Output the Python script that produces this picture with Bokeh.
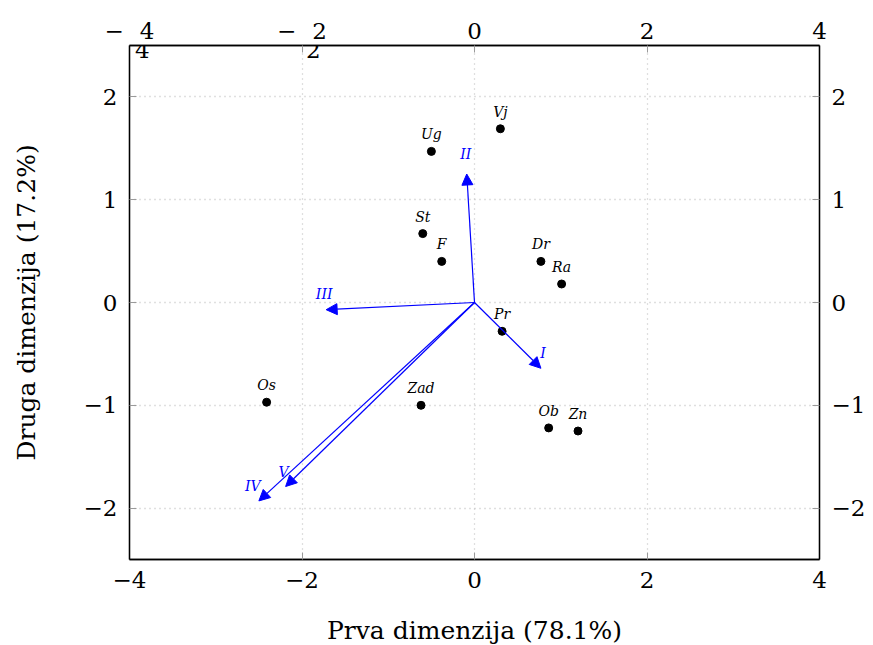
from bokeh.plotting import figure
from bokeh.models import (ColumnDataSource, LinearAxis, FixedTicker, Arrow, NormalHead,
                          Range1d)
from bokeh.core.properties import value
from bokeh.embed import file_html
from bokeh.resources import INLINE

# ---- data ----
obj_names = ["Vj", "Ug", "St", "F", "Dr", "Ra", "Pr", "Os", "Zad", "Ob", "Zn"]
obj_x = [0.30, -0.50, -0.60, -0.38, 0.77, 1.01, 0.32, -2.41, -0.62, 0.86, 1.20]
obj_y = [1.69, 1.47, 0.67, 0.40, 0.40, 0.18, -0.28, -0.97, -1.00, -1.22, -1.25]

var_names = ["I", "II", "III", "IV", "V"]
var_x = [0.77, -0.09, -1.72, -2.50, -2.19]
var_y = [-0.64, 1.25, -0.07, -1.93, -1.79]

x_ticks = [-4, -2, 0, 2, 4]
y_ticks = [-2, -1, 0, 1, 2]
top_tick_labels = ["\u2212\u2002\u20094", "\u2212\u2002\u20092", "0", "2", "4"]
stray_labels = ["4", "2"]
stray_x = [-3.85, -1.87]

x_title = "Prva dimenzija (78.1%)"
y_title = "Druga dimenzija (17.2%)"

# ---- styling ----
FONT = "DejaVu Serif"
BLUE = "#0000ff"
TICK_FS = "23px"
TITLE_FS = "25px"
LAB_FS = "14px"

p = figure(output_backend="svg", toolbar_location=None,
           frame_width=690, frame_height=514,
           min_border_left=129, min_border_top=45, min_border_right=46, min_border_bottom=84,
           x_range=Range1d(-4, 4), y_range=Range1d(-2.5, 2.5),
           x_axis_location=None, y_axis_location=None)
p.outline_line_color = "black"
p.outline_line_width = 1.3
p.background_fill_color = "white"
p.border_fill_color = "white"

def style_axis(ax, ticks):
    ax.ticker = FixedTicker(ticks=ticks)
    ax.major_label_text_font = FONT
    ax.major_label_text_font_size = TICK_FS
    ax.major_label_text_color = "black"
    ax.axis_line_color = "black"
    ax.axis_line_width = 1.3
    ax.major_tick_in = 7
    ax.major_tick_out = 0
    ax.major_tick_line_color = "#9a9a9a"
    ax.minor_tick_line_color = None
    ax.axis_label_text_font = FONT
    ax.axis_label_text_font_size = TITLE_FS
    ax.axis_label_text_font_style = "normal"
    ax.axis_label_text_color = "black"

def minus(t):
    return str(t).replace("-", "\u2212")

xb = LinearAxis(axis_label=x_title)
style_axis(xb, x_ticks)
xb.major_label_standoff = 12
xb.axis_label_standoff = 25
xb.major_label_overrides = {t: minus(t) for t in x_ticks}
p.add_layout(xb, "below")

xt = LinearAxis()
style_axis(xt, x_ticks)
xt.major_label_standoff = 2
xt.major_label_overrides = {t: lab for t, lab in zip(x_ticks, top_tick_labels)}
p.add_layout(xt, "above")

yl = LinearAxis(axis_label=y_title)
style_axis(yl, y_ticks)
yl.major_label_standoff = 12
yl.axis_label_standoff = 40
yl.major_label_orientation = "horizontal"
yl.major_label_overrides = {t: minus(t) for t in y_ticks}
p.add_layout(yl, "left")

yr = LinearAxis()
style_axis(yr, y_ticks)
yr.major_label_standoff = 12
yr.major_label_orientation = "horizontal"
yr.major_label_overrides = {t: minus(t) for t in y_ticks}
p.add_layout(yr, "right")

# grid
p.xgrid.ticker = FixedTicker(ticks=x_ticks)
p.ygrid.ticker = FixedTicker(ticks=y_ticks)
for g in (p.xgrid, p.ygrid):
    g.grid_line_color = "#c0c0c0"
    g.grid_line_dash = "1 4"
    g.grid_line_width = 1.3

# stray top labels (as in the original rendering)
p.text(x=stray_x, y=[2.5] * len(stray_x), text=stray_labels,
       text_font=value(FONT), text_font_size=TICK_FS, text_color="black",
       text_align="center", text_baseline="top", y_offset=-4)

# arrows
vsrc = ColumnDataSource(dict(x0=[0] * len(var_x), y0=[0] * len(var_y), x1=var_x, y1=var_y,
                             name=var_names,
                             dx=[2, -1, -2, -6, -2], dy=[-15, -20, -16, -15, -15]))
p.add_layout(Arrow(source=vsrc, x_start="x0", y_start="y0", x_end="x1", y_end="y1",
                   line_color=BLUE, line_width=1.2,
                   end=NormalHead(size=11, fill_color=BLUE, line_color=BLUE, line_width=1)))
p.text(x="x1", y="y1", text="name", source=vsrc, x_offset="dx", y_offset="dy",
       text_font=value(FONT), text_font_size=LAB_FS, text_font_style="italic",
       text_color=BLUE, text_align="center", text_baseline="middle")

# points
osrc = ColumnDataSource(dict(x=obj_x, y=obj_y, name=obj_names))
p.scatter(x="x", y="y", source=osrc, size=8, color="black")
p.text(x="x", y="y", text="name", source=osrc, y_offset=-9,
       text_font=value(FONT), text_font_size=LAB_FS, text_font_style="italic",
       text_color="black", text_align="center", text_baseline="bottom")

open("out.html", "w").write(file_html(p, INLINE))
